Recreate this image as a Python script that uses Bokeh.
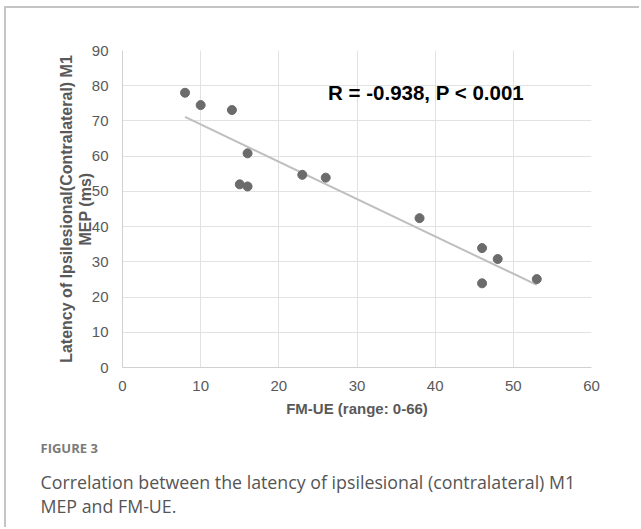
import numpy as np
from bokeh.plotting import figure
from bokeh.models import Range1d, Label, FixedTicker, Title
from bokeh.embed import file_html
from bokeh.resources import INLINE

# Data
fm_ue = [8, 10, 14, 16, 15, 16, 23, 26, 38, 46, 48, 46, 53]
latency = [78.0, 74.5, 73.1, 60.8, 52.0, 51.4, 54.7, 53.9, 42.4, 33.9, 30.8, 23.9, 25.1]
x_ticks = [0, 10, 20, 30, 40, 50, 60]
y_ticks = [0, 10, 20, 30, 40, 50, 60, 70, 80, 90]
stat_text = "R = -0.938, P < 0.001"
x_title = "FM-UE (range: 0-66)"
y_title = "Latency of Ipsilesional(Contralateral) M1\nMEP (ms)"
fig_label = "FIGURE 3"
caption = "Correlation between the latency of ipsilesional (contralateral) M1\nMEP and FM-UE."

W, H = 635, 521
p = figure(width=W, height=H, output_backend="svg", toolbar_location=None,
           x_range=Range1d(0, 60), y_range=Range1d(0, 90),
           min_border_left=116, min_border_right=50, min_border_top=42,
           min_border_bottom=162)
p.margin = (6, 0, 0, 4)
p.styles = {"border-top": "2px solid #c4c4c4", "border-left": "2px solid #c4c4c4"}
p.outline_line_color = None
p.background_fill_color = "white"
p.border_fill_color = "white"

# grid
p.xgrid.ticker = FixedTicker(ticks=x_ticks)
p.ygrid.ticker = FixedTicker(ticks=y_ticks)
p.xgrid.grid_line_color = "#e2e2e2"
p.ygrid.grid_line_color = "#e2e2e2"

for ax in (p.xaxis[0], p.yaxis[0]):
    ax.axis_line_color = "#d0d0d0"
    ax.axis_line_width = 1
    ax.major_tick_line_color = None
    ax.minor_tick_line_color = None
    ax.major_label_text_font = "Liberation Sans"
    ax.major_label_text_font_size = "15px"
    ax.major_label_text_color = "#595959"
    ax.axis_label_text_font = "Liberation Sans"
    ax.axis_label_text_font_style = "bold"
    ax.axis_label_text_color = "#595959"

p.xaxis.ticker = FixedTicker(ticks=x_ticks)
p.yaxis.ticker = FixedTicker(ticks=y_ticks)
p.xaxis.major_label_standoff = 7
p.yaxis.major_label_standoff = 8
p.xaxis.axis_label = x_title
p.xaxis.axis_label_text_font_size = "15px"
p.xaxis.axis_label_standoff = 6
p.yaxis.axis_label = y_title
p.yaxis.axis_label_text_font_size = "16px"
p.yaxis.axis_label_standoff = -5
p.yaxis.axis_label_text_line_height = 1.1

# regression line
xs = np.array(fm_ue, dtype=float)
ys = np.array(latency, dtype=float)
m, b = np.polyfit(xs, ys, 1)
x_line = [xs.min(), xs.max()]
p.line(x_line, [m * v + b for v in x_line], line_color="#bfbfbf", line_width=2)

p.scatter(fm_ue, latency, size=9, fill_color="#6b6b6b", line_color="#6b6b6b")

# stat label
p.add_layout(Label(x=26.3, y=78.0, text=stat_text, text_font="Liberation Sans",
                   text_font_size="20.5px", text_font_style="bold", text_color="black",
                   text_baseline="middle", text_align="left"))

# caption as titles below the x axis
p.add_layout(Title(text=fig_label, align="left", offset=-82, standoff=34,
                   text_font="Open Sans", text_font_size="13px",
                   text_font_style="bold", text_color="#7a7a7a"), "below")
p.add_layout(Title(text=caption, align="left", offset=-82, standoff=-11,
                   text_font="Open Sans", text_font_size="17.8px",
                   text_line_height=1.0,
                   text_font_style="normal", text_color="#555555"), "below")

open("out.html", "w").write(file_html(p, INLINE))
